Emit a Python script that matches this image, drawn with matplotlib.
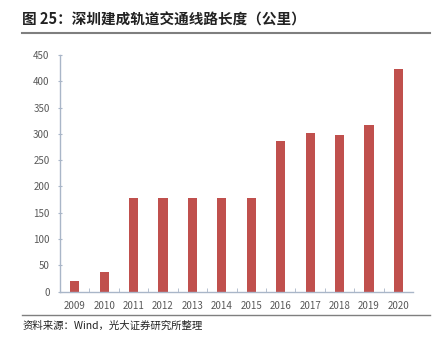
import matplotlib
matplotlib.use("Agg")
import matplotlib.pyplot as plt
from matplotlib.lines import Line2D

plt.rcParams['font.family'] = ['Noto Sans CJK SC', 'DejaVu Sans']

years = ['2009', '2010', '2011', '2012', '2013', '2014', '2015',
         '2016', '2017', '2018', '2019', '2020']
length_km = [21, 37, 178, 178, 178, 178, 178, 286, 302, 298, 317, 424]
yticks = [0, 50, 100, 150, 200, 250, 300, 350, 400, 450]

fig = plt.figure(figsize=(4.33, 3.45), dpi=100)
ax = fig.add_axes([0.1386, 0.1545, 0.8154, 0.6861])

x = range(len(years))
ax.bar(x, length_km, width=0.31, color='#C0504D')
ax.set_xlim(-0.5, len(years) - 0.5)
ax.set_ylim(0, 450)
ax.set_yticks(yticks)
ax.set_xticks(x)
ax.set_xticklabels(years)
ax.set_xticks([i + 0.5 for i in range(len(years) - 1)], minor=True)

for s in ['top', 'right']:
    ax.spines[s].set_visible(False)
for s in ['left', 'bottom']:
    ax.spines[s].set_color('#A9B6C8')
    ax.spines[s].set_linewidth(1.0)

ax.tick_params(axis='y', labelsize=7, colors='#A9B6C8', labelcolor='#595959',
               length=3, direction='inout', pad=6)
ax.tick_params(axis='x', which='major', length=0, labelsize=7,
               labelcolor='#595959', pad=7)
ax.tick_params(axis='x', which='minor', length=3, direction='in', colors='#A9B6C8')

fig.text(0.051, 0.942, '图 25：深圳建成轨道交通线路长度（公里）', fontsize=10.5,
         fontweight='bold', color='#222222', va='center', ha='left')
fig.add_artist(Line2D([0.051, 0.993], [0.905, 0.905], color='#7F7F7F', lw=1.5))
fig.add_artist(Line2D([0.051, 0.993], [0.086, 0.086], color='#7F7F7F', lw=1.0))
fig.text(0.051, 0.055, '资料来源：Wind，光大证券研究所整理', fontsize=7.5,
         color='#222222', va='center', ha='left')

fig.savefig('out.png', dpi=100)
